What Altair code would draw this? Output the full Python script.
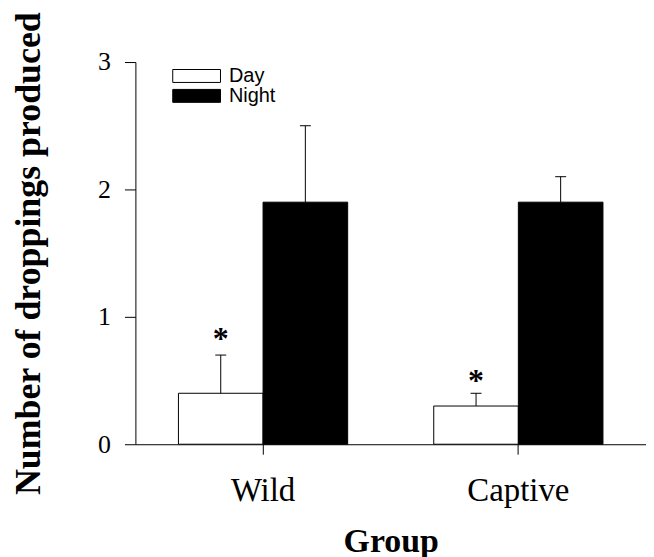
import altair as alt
import pandas as pd

groups = ["Wild", "Wild", "Captive", "Captive"]
periods = ["Day", "Night", "Day", "Night"]
means = [0.4, 1.9, 0.3, 1.9]
errors = [0.3, 0.6, 0.1, 0.2]

star_groups = ["Wild", "Captive"]
star_periods = ["Day", "Day"]
star_y = [0.86, 0.53]

group_order = ["Wild", "Captive"]
period_order = ["Day", "Night"]
y_ticks = [0, 1, 2, 3]

df = pd.DataFrame({"group": groups, "period": periods, "mean": means, "err": errors})
df_star = pd.DataFrame({"group": star_groups, "period": star_periods, "sy": star_y, "txt": ["*", "*"]})

SERIF = "Liberation Serif"

x_enc = alt.X(
    "group:N",
    sort=group_order,
    scale=alt.Scale(paddingInner=0.3372, paddingOuter=0.1686),
    axis=alt.Axis(
        title="Group",
        labelAngle=0,
        tickSize=10,
        labelPadding=21,
        labelFont=SERIF,
        labelFontSize=33,
        labelColor="black",
        domainColor="black",
        tickColor="black",
        titleFont=SERIF,
        titleFontSize=34,
        titleFontWeight="bold",
        titleColor="black",
        titleBaseline="alphabetic",
        titleY=108,
    ),
)
xo_enc = alt.XOffset("period:N", sort=period_order, scale=alt.Scale(paddingInner=0, paddingOuter=0))

y_axis = alt.Axis(
    title="Number of droppings produced",
    values=y_ticks,
    format="d",
    grid=False,
    tickSize=11,
    labelPadding=14,
    labelFont=SERIF,
    labelFontSize=26,
    labelColor="black",
    domainColor="black",
    tickColor="black",
    titleFont=SERIF,
    titleFontSize=36,
    titleFontWeight="bold",
    titleColor="black",
    titleAngle=270,
    titleAlign="center",
    titleBaseline="alphabetic",
    titleX=-96,
    titleY=192,
)

base = alt.Chart(df).transform_calculate(upper="datum.mean + datum.err")

bars = base.mark_bar(stroke="black", strokeWidth=1).encode(
    x=x_enc,
    xOffset=xo_enc,
    y=alt.Y("mean:Q", scale=alt.Scale(domain=[0, 3], nice=False), axis=y_axis),
    fill=alt.Fill(
        "period:N",
        sort=period_order,
        scale=alt.Scale(domain=period_order, range=["white", "black"]),
        legend=alt.Legend(
            title=None,
            orient="none",
            legendX=51.5,
            legendY=4,
            padding=0,
            rowPadding=0,
            symbolType="M-3.69,-1H3.69V1H-3.69Z",
            symbolSize=169,
            symbolStrokeColor="black",
            symbolStrokeWidth=1,
            symbolOpacity=1,
            labelOffset=22.5,
            labelFontSize=20,
            labelColor="black",
            labelFont="Liberation Sans",
        ),
    ),
)

rules = base.mark_rule(color="black", strokeWidth=1).encode(
    x=alt.X("group:N", sort=group_order),
    xOffset=alt.XOffset("period:N", sort=period_order),
    y=alt.Y("mean:Q"),
    y2=alt.Y2("upper:Q"),
)

caps = base.mark_tick(color="black", thickness=1, size=11, opacity=1).encode(
    x=alt.X("group:N", sort=group_order),
    xOffset=alt.XOffset("period:N", sort=period_order),
    y=alt.Y("upper:Q"),
)

stars = alt.Chart(df_star).mark_text(
    font=SERIF, fontSize=32, fontWeight="bold", color="black", baseline="middle", dy=4
).encode(
    x=alt.X("group:N", sort=group_order),
    xOffset=alt.XOffset("period:N", sort=period_order),
    y=alt.Y("sy:Q"),
    text="txt:N",
)

chart = (
    alt.layer(bars, rules, caps, stars)
    .properties(
        width=513,
        height=384,
        autosize=alt.AutoSizeParams(type="none"),
        padding={"left": 128, "top": 53, "right": 0, "bottom": 112},
        background="white",
    )
    .configure_view(stroke=None)
)

chart.save("out.html", embed_options={"renderer": "svg", "actions": False})
